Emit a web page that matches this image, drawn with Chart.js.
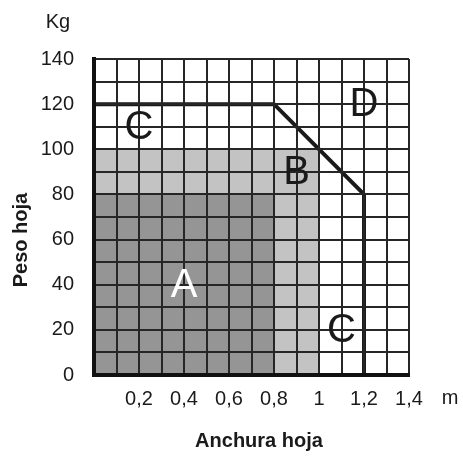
<!DOCTYPE html>
<html>
<head>
<meta charset="utf-8">
<script src="https://cdn.jsdelivr.net/npm/chart.js@4/dist/chart.umd.min.js"></script>
<style>
  html, body { margin: 0; padding: 0; background: #fff; }
  #wrap { width: 463px; height: 456px; }
</style>
</head>
<body>
<div id="wrap"><canvas id="myChart"></canvas></div>
<script>
// zonas de carga (ancho m, peso kg)
const zoneA = [{ x: 0, y: 80 }, { x: 0.8, y: 80 }];
const zoneB = [{ x: 0, y: 100 }, { x: 1.0, y: 100 }];
const limitC = [{ x: 0, y: 120 }, { x: 0.8, y: 120 }, { x: 1.2, y: 80 }, { x: 1.2, y: 0 }];

// letras de cada zona
const zoneLetters = ['A', 'B', 'C', 'C', 'D'];
const zoneLetterX = [0.4, 0.9, 0.2, 1.1, 1.2];
const zoneLetterY = [40, 90, 110, 20, 120];

const xTickLabels = ['0,2', '0,4', '0,6', '0,8', '1', '1,2', '1,4'];

const FONT = '"Liberation Sans", Arial, sans-serif';

const textPlugin = {
  id: 'textPlugin',
  afterDraw(chart) {
    const ctx = chart.ctx;
    const xs = chart.scales.x;
    const ys = chart.scales.y;
    ctx.save();
    // letras
    ctx.font = '40px ' + FONT;
    ctx.textAlign = 'center';
    ctx.textBaseline = 'middle';
    for (let i = 0; i < zoneLetters.length; i++) {
      ctx.fillStyle = zoneLetters[i] === 'A' ? '#ffffff' : '#1a1a1a';
      ctx.fillText(zoneLetters[i], xs.getPixelForValue(zoneLetterX[i]), ys.getPixelForValue(zoneLetterY[i]) + 1);
    }
    // unidades
    ctx.fillStyle = '#1a1a1a';
    ctx.font = '20px ' + FONT;
    ctx.fillText('Kg', 58, 22);
    ctx.fillText('m', 450, 398);
    // titulos
    ctx.font = 'bold 20px ' + FONT;
    ctx.fillText('Anchura hoja', 259, 441);
    ctx.translate(21, 240);
    ctx.rotate(-Math.PI / 2);
    ctx.fillText('Peso hoja', 0, 0);
    ctx.restore();
  },
};

const data = {
  datasets: [
    {
      label: 'C',
      data: limitC,
      borderColor: '#1a1a1a',
      borderWidth: 4,
      fill: false,
      pointRadius: 0,
      tension: 0,
    },
    {
      label: 'A',
      data: zoneA,
      borderWidth: 0,
      backgroundColor: '#959595',
      fill: 'origin',
      pointRadius: 0,
    },
    {
      label: 'B',
      data: zoneB,
      borderWidth: 0,
      backgroundColor: '#c3c3c3',
      fill: 'origin',
      pointRadius: 0,
    },
  ],
};

const config = {
  type: 'line',
  data: data,
  plugins: [textPlugin],
  options: {
    responsive: true,
    maintainAspectRatio: false,
    animation: false,
    layout: { padding: { top: 59, right: 54, left: 0, bottom: 0 } },
    plugins: {
      legend: { display: false },
      tooltip: { enabled: false },
    },
    scales: {
      x: {
        type: 'linear',
        min: 0,
        max: 1.4,
        afterFit: (scale) => { scale.height = 81; },
        grid: { color: '#262626', lineWidth: 2, drawTicks: false, z: 1 },
        border: { color: '#111', width: 4, z: 2 },
        ticks: {
          stepSize: 0.1,
          autoSkip: false,
          maxRotation: 0,
          padding: 12,
          color: '#1a1a1a',
          font: { family: FONT, size: 20 },
          callback: (v) => {
            const k = Math.round(v * 10);
            if (k === 0 || k % 2 !== 0) return '';
            return xTickLabels[k / 2 - 1];
          },
        },
      },
      y: {
        type: 'linear',
        min: 0,
        max: 140,
        afterFit: (scale) => { scale.width = 94; },
        grid: { color: '#262626', lineWidth: 2, drawTicks: false, z: 1 },
        border: { color: '#111', width: 4, z: 2 },
        ticks: {
          stepSize: 10,
          autoSkip: false,
          padding: 20,
          color: '#1a1a1a',
          font: { family: FONT, size: 20 },
          callback: (v) => (v % 20 === 0 ? String(v) : ''),
        },
      },
    },
  },
};

const chart = new Chart(document.getElementById('myChart'), config);
</script>
</body>
</html>
